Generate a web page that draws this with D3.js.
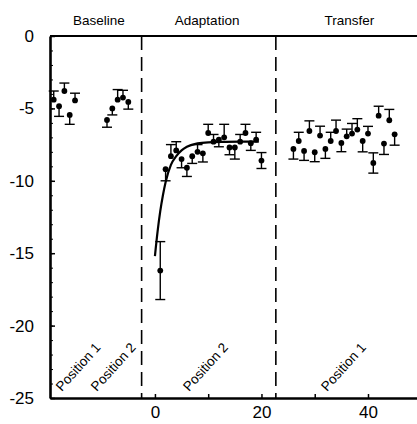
<!DOCTYPE html>
<html>
<head>
<meta charset="utf-8">
<script src="https://cdn.jsdelivr.net/npm/d3@7"></script>
<style>
  body { margin: 0; background: #fff; }
  svg { display: block; font-family: "Liberation Sans", Arial, sans-serif; }
</style>
</head>
<body>
<svg width="417" height="424"></svg>
<script>
// baseline trials (position 1 then position 2)
var baseTrial = [-19, -18, -17, -16, -15, -9, -8, -7, -6, -5];
var baseMean  = [-4.4, -4.85, -3.8, -5.45, -4.45, -5.8, -5.0, -4.4, -4.25, -4.55];
var baseErr   = [0.6, 0.7, 0.55, 0.65, 0.5, 0.5, 0.45, 0.7, 0.5, 0.5];
var baseDir   = [1, -1, 1, -1, 1, -1, -1, 1, 1, -1];

// adaptation trials
var adaptTrial = [1, 2, 3, 4, 5, 6, 7, 8, 9, 10, 11, 12, 13, 14, 15, 16, 17, 18, 19, 20];
var adaptMean  = [-16.2, -9.2, -8.3, -7.9, -8.5, -9.1, -8.3, -8.0, -8.1, -6.7,
                  -7.3, -7.15, -7.0, -7.7, -7.7, -7.3, -6.7, -7.4, -7.15, -8.6];
var adaptErr   = [2.0, 0.8, 0.8, 0.6, 0.6, 0.6, 0.5, 0.5, 0.6, 0.6,
                  0.5, 0.5, 0.9, 0.5, 0.8, 0.5, 0.6, 0.5, 0.5, 0.55];
var adaptDir   = [0, -1, 1, 1, -1, -1, -1, 1, -1, 1, 1, -1, 1, -1, -1, 1, 1, -1, 1, 0];

// fitted curve
var fitX = [0, 0.5, 1, 1.5, 2, 3, 4, 5, 6, 8, 10, 13, 16, 19.5];
var fitY = [-15.2, -13.5, -12.1, -11.0, -10.1, -8.9, -8.3, -7.9, -7.65, -7.42, -7.34, -7.31, -7.3, -7.3];

// transfer trials
var transTrial = [26, 27, 28, 29, 30, 31, 32, 33, 34, 35, 36, 37, 38, 39, 40, 41, 42, 43, 44, 45];
var transMean  = [-7.8, -7.25, -7.94, -6.56, -8.03, -6.88, -7.8, -7.25, -6.56, -7.39,
                  -6.93, -6.74, -6.46, -7.25, -6.74, -8.77, -5.5, -7.43, -5.82, -6.79];
var transErr   = [0.7, 0.6, 0.65, 0.7, 0.65, 0.65, 0.65, 0.6, 0.75, 0.6,
                  0.5, 0.7, 0.75, 0.75, 0.5, 0.7, 0.65, 0.75, 0.75, 0.75];
var transDir   = [-1, 1, -1, 1, -1, 1, -1, 1, 1, -1, 1, 1, 1, -1, 1, 0, 1, -1, 1, -1];

var phases = ["Baseline", "Adaptation", "Transfer"];
var phaseX = [-10.5, 9.8, 36.5];
var dividerX = [-2.5, 22.7];
var yTicks = [0, -5, -10, -15, -20, -25];
var xTicks = [0, 10, 20, 30, 40];
var xLabels = [0, 20, 40];
var posLabels = [
  {text: "Position 1", x: -17.5},
  {text: "Position 2", x: -10.9},
  {text: "Position 2", x: 6.4},
  {text: "Position 1", x: 32.3}
];

var svg = d3.select("svg");
var x = d3.scaleLinear().domain([-19.7, 49.2]).range([50, 417]),
    y = d3.scaleLinear().domain([-25, 0]).range([398, 36]);

function zip(tr, m, e, dir) {
  return tr.map(function(t, i) { return {x: t, y: m[i], e: e[i], dir: dir[i]}; });
}
var points = zip(baseTrial, baseMean, baseErr, baseDir)
  .concat(zip(adaptTrial, adaptMean, adaptErr, adaptDir))
  .concat(zip(transTrial, transMean, transErr, transDir));

// dividers
svg.selectAll(".divider")
  .data(dividerX)
  .enter().append("line")
    .attr("class", "divider")
    .attr("x1", function(d) { return x(d); })
    .attr("x2", function(d) { return x(d); })
    .attr("y1", y(0))
    .attr("y2", y(-25))
    .attr("stroke", "#000")
    .attr("stroke-width", 1.6)
    .attr("stroke-dasharray", "14,7");

// error bars (one sided, away from the mean; both sides where dir is 0)
var cap = 5;
var eb = svg.append("g").attr("stroke", "#000").attr("stroke-width", 1.4);
points.forEach(function(d) {
  var ends = d.dir === 0 ? [d.y + d.e, d.y - d.e] : [d.y + d.dir * d.e];
  ends.forEach(function(v) {
    eb.append("line")
      .attr("x1", x(d.x)).attr("x2", x(d.x))
      .attr("y1", y(d.y)).attr("y2", y(v));
    eb.append("line")
      .attr("x1", x(d.x) - cap).attr("x2", x(d.x) + cap)
      .attr("y1", y(v)).attr("y2", y(v));
  });
});

// fitted curve
var line = d3.line()
  .x(function(d, i) { return x(fitX[i]); })
  .y(function(d) { return y(d); })
  .curve(d3.curveMonotoneX);
svg.append("path")
  .attr("d", line(fitY))
  .attr("fill", "none")
  .attr("stroke", "#000")
  .attr("stroke-width", 2.2);

// dots
svg.selectAll(".dot")
  .data(points)
  .enter().append("circle")
    .attr("class", "dot")
    .attr("cx", function(d) { return x(d.x); })
    .attr("cy", function(d) { return y(d.y); })
    .attr("r", 2.9)
    .attr("fill", "#000");

// frame: top line
svg.append("line")
  .attr("x1", x.range()[0]).attr("x2", x.range()[1])
  .attr("y1", y(0)).attr("y2", y(0))
  .attr("stroke", "#000").attr("stroke-width", 2.2);

// y axis
var yAxis = svg.append("g")
  .attr("transform", "translate(" + x.range()[0] + ",0)")
  .call(d3.axisLeft(y).tickValues(yTicks).tickSizeInner(-5).tickSizeOuter(0).tickPadding(16));
svg.append("g")
  .attr("transform", "translate(" + x.range()[0] + ",0)")
  .call(d3.axisLeft(y).ticks(25).tickSizeInner(-3).tickSizeOuter(0).tickFormat(""))
  .select(".domain").remove();

// x axis
var xAxis = svg.append("g")
  .attr("transform", "translate(0," + y.range()[0] + ")")
  .call(d3.axisBottom(x).tickValues(xTicks).tickSizeInner(-4).tickSizeOuter(0).tickPadding(8)
    .tickFormat(function(d) { return xLabels.indexOf(d) >= 0 ? d : ""; }));

[yAxis, xAxis].forEach(function(a) {
  a.select(".domain").attr("stroke-width", 2.6);
  a.selectAll(".tick line").attr("stroke-width", 1.5);
  a.selectAll("text").attr("font-size", 17).attr("font-family", "Liberation Sans, Arial, sans-serif");
});
yAxis.selectAll("text").text(function(d) { return d === 0 ? "0" : "-" + Math.abs(d); });

// phase titles
svg.selectAll(".phase")
  .data(phases)
  .enter().append("text")
    .attr("class", "phase")
    .attr("x", function(d, i) { return x(phaseX[i]); })
    .attr("y", 25)
    .attr("text-anchor", "middle")
    .attr("font-size", 13.5)
    .text(function(d) { return d; });

// rotated position labels
svg.selectAll(".pos")
  .data(posLabels)
  .enter().append("text")
    .attr("class", "pos")
    .attr("transform", function(d) { return "translate(" + x(d.x) + ",392) rotate(-48)"; })
    .attr("font-size", 13.5)
    .text(function(d) { return d.text; });
</script>
</body>
</html>
